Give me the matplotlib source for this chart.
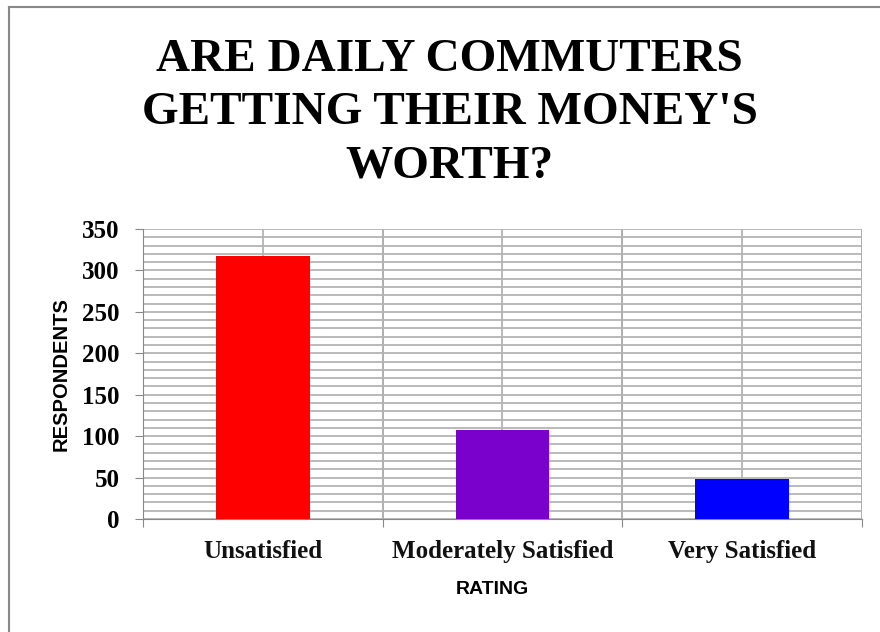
import matplotlib.pyplot as plt
from matplotlib.lines import Line2D
from matplotlib.ticker import MultipleLocator, FixedLocator

# Data
ratings = ["Unsatisfied", "Moderately Satisfied", "Very Satisfied"]
respondents = [317, 108, 48]
bar_colors = ["#ff0000", "#7a00cc", "#0000ff"]
y_ticks = [0, 50, 100, 150, 200, 250, 300, 350]

fig = plt.figure(figsize=(8.8, 6.32), dpi=100)
ax = fig.add_axes([0.1625, 0.1788, 0.817, 0.4589])

x = list(range(len(ratings)))
ax.bar(x, respondents, width=0.39, color=bar_colors, zorder=3)

ax.set_xlim(-0.5, len(ratings) - 0.5)
ax.set_ylim(0, 350)

# horizontal gridlines every 10, vertical at boundaries and centres
ax.yaxis.set_major_locator(FixedLocator(y_ticks))
ax.yaxis.set_minor_locator(MultipleLocator(10))
ax.grid(axis="y", which="both", color="#b4b4b4", lw=1.3, zorder=0)
for xc in x:
    ax.axvline(xc, color="#b4b4b4", lw=1.3, zorder=0)
for xb in [0.5, 1.5, 2.5]:
    ax.axvline(xb, color="#a8a8a8", lw=1.3, zorder=0)

# x ticks at boundaries, labels at centres
ax.xaxis.set_major_locator(FixedLocator([-0.5, 0.5, 1.5, 2.5]))
ax.xaxis.set_major_formatter(plt.NullFormatter())
ax.xaxis.set_minor_locator(FixedLocator(x))
ax.set_xticklabels(ratings, minor=True, family="Liberation Serif",
                   fontweight="bold", fontsize=18)
ax.tick_params(axis="x", which="major", length=6, color="#888888",
               direction="out")
ax.tick_params(axis="x", which="minor", length=0, pad=15, colors="#111111")
ax.tick_params(axis="y", which="major", length=6, color="#888888",
               pad=11, labelsize=18)
ax.tick_params(axis="y", which="minor", length=0)
for lab in ax.get_yticklabels():
    lab.set_family("Liberation Serif")
    lab.set_fontweight("bold")

for side in ["top", "right"]:
    ax.spines[side].set_visible(False)
ax.spines["left"].set_color("#888888")
ax.spines["bottom"].set_color("#888888")

ax.set_ylabel("RESPONDENTS", family="Liberation Sans", fontweight="bold",
              fontsize=14.5)
ax.yaxis.set_label_coords(-0.101, 0.5)
ax.set_xlabel("RATING", family="Liberation Sans", fontweight="bold",
              fontsize=14)
ax.xaxis.set_label_coords(0.4857, -0.215)

fig.text(0.511, 0.821, "ARE DAILY COMMUTERS\nGETTING THEIR MONEY'S\nWORTH?",
         ha="center", va="center", family="Liberation Serif",
         fontweight="bold", fontsize=34, linespacing=1.35)

# thin frame at top and left edge of the picture
fig.add_artist(Line2D([9 / 880, 9 / 880], [0, 1 - 7 / 632],
                      transform=fig.transFigure, color="#888888", lw=1.5))
fig.add_artist(Line2D([9 / 880, 1], [1 - 7 / 632, 1 - 7 / 632],
                      transform=fig.transFigure, color="#888888", lw=1.5))

plt.savefig("out.png", dpi=100)
